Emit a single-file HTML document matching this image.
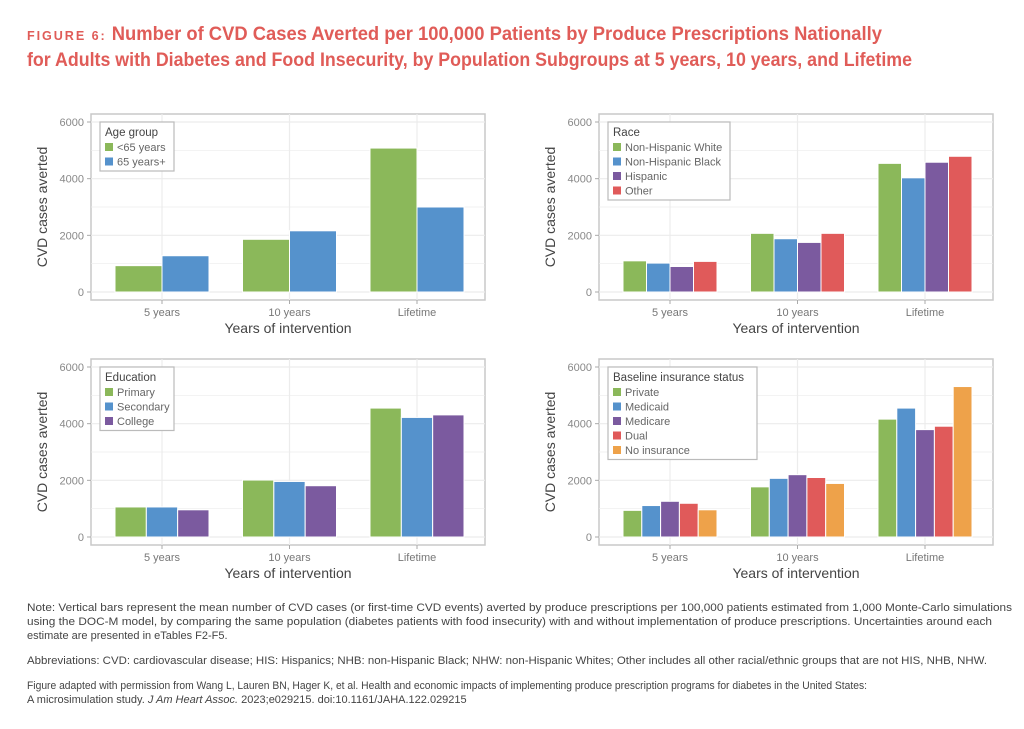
<!DOCTYPE html>
<html><head><meta charset="utf-8"><style>
html,body{margin:0;padding:0;background:#fff;}
svg{display:block;font-family:"Liberation Sans",sans-serif;}
</style></head><body>
<svg id="s" width="1024" height="729" viewBox="0 0 1024 729" xmlns="http://www.w3.org/2000/svg">
<text x="27" y="40" fill="#e05c58" font-weight="bold" font-size="19" textLength="855" lengthAdjust="spacingAndGlyphs"><tspan font-size="13" letter-spacing="2">FIGURE 6:</tspan> Number of CVD Cases Averted per 100,000 Patients by Produce Prescriptions Nationally</text>
<text x="27" y="66" fill="#e05c58" font-weight="bold" font-size="19" textLength="885" lengthAdjust="spacingAndGlyphs">for Adults with Diabetes and Food Insecurity, by Population Subgroups at 5 years, 10 years, and Lifetime</text>
<g id="charts"></g>
<g font-size="11" fill="#444">
<text x="27" y="611" textLength="985" lengthAdjust="spacingAndGlyphs">Note: Vertical bars represent the mean number of CVD cases (or first-time CVD events) averted by produce prescriptions per 100,000 patients estimated from 1,000 Monte-Carlo simulations</text>
<text x="27" y="625" textLength="965" lengthAdjust="spacingAndGlyphs">using the DOC-M model, by comparing the same population (diabetes patients with food insecurity) with and without implementation of produce prescriptions. Uncertainties around each</text>
<text x="27" y="639">estimate are presented in eTables F2-F5.</text>
<text x="27" y="664" textLength="960" lengthAdjust="spacingAndGlyphs">Abbreviations: CVD: cardiovascular disease; HIS: Hispanics; NHB: non-Hispanic Black; NHW: non-Hispanic Whites; Other includes all other racial/ethnic groups that are not HIS, NHB, NHW.</text>
<text x="27" y="689" textLength="840" lengthAdjust="spacingAndGlyphs">Figure adapted with permission from Wang L, Lauren BN, Hager K, et al. Health and economic impacts of implementing produce prescription programs for diabetes in the United States:</text>
<text x="27" y="703">A microsimulation study. <tspan font-style="italic">J Am Heart Assoc.</tspan> 2023;e029215. doi:10.1161/JAHA.122.029215</text>
</g>
</svg>
<script>
var C={g:"#8bb85a",b:"#5592cc",p:"#7b5a9f",r:"#e05a5a",o:"#eea24a"};
var panels=[
{x:91,y:114,title:"Age group",names:["<65 years","65 years+"],cols:[C.g,C.b],d:[[930,1280],[1860,2160],[5080,3000]],lw:74},
{x:599,y:114,title:"Race",names:["Non-Hispanic White","Non-Hispanic Black","Hispanic","Other"],cols:[C.g,C.b,C.p,C.r],d:[[1100,1020,900,1080],[2070,1880,1750,2070],[4540,4030,4580,4790]],lw:122},
{x:91,y:359,title:"Education",names:["Primary","Secondary","College"],cols:[C.g,C.b,C.p],d:[[1060,1060,960],[2010,1960,1810],[4550,4220,4310]],lw:74},
{x:599,y:359,title:"Baseline insurance status",names:["Private","Medicaid","Medicare","Dual","No insurance"],cols:[C.g,C.b,C.p,C.r,C.o],d:[[940,1110,1260,1190,960],[1770,2070,2200,2100,1890],[4160,4550,3790,3910,5310]],lw:149}
];
var h="";
panels.forEach(function(P){
 var W=394,H=186,y0=P.y+178,k=170/6000;
 h+='<rect x="'+P.x+'" y="'+P.y+'" width="'+W+'" height="'+H+'" fill="#fff" stroke="#c8c8c8" stroke-width="1.5"/>';
 for(var v=1000;v<=6000;v+=1000){var yy=y0-v*k;h+='<line x1="'+P.x+'" x2="'+(P.x+W)+'" y1="'+yy+'" y2="'+yy+'" stroke="#ececec" stroke-width="'+(v%2000?0.7:1.2)+'"/>';}
 h+='<line x1="'+P.x+'" x2="'+(P.x+W)+'" y1="'+y0+'" y2="'+y0+'" stroke="#ececec" stroke-width="1.2"/>';
 var cats=["5 years","10 years","Lifetime"];
 for(var i=0;i<3;i++){var cx=P.x+71+i*127.5;h+='<line x1="'+cx+'" x2="'+cx+'" y1="'+P.y+'" y2="'+(P.y+H)+'" stroke="#ececec" stroke-width="1.2"/>';
  h+='<line x1="'+cx+'" x2="'+cx+'" y1="'+(P.y+H)+'" y2="'+(P.y+H+4)+'" stroke="#aaa"/>';
  h+='<text x="'+cx+'" y="'+(P.y+H+16)+'" font-size="11" fill="#777" text-anchor="middle">'+cats[i]+'</text>';
  var n=P.d[i].length,bw=94/n;
  for(var j=0;j<n;j++){var v=P.d[i][j],bh=v*k;h+='<rect x="'+(cx-47+j*bw)+'" y="'+(y0-bh)+'" width="'+bw+'" height="'+bh+'" fill="'+P.cols[j]+'" stroke="#fff" stroke-width="1"/>';}
 }
 for(var v=0;v<=6000;v+=2000){var yy=y0-v*k;h+='<line x1="'+(P.x-4)+'" x2="'+P.x+'" y1="'+yy+'" y2="'+yy+'" stroke="#aaa"/><text x="'+(P.x-7)+'" y="'+(yy+4)+'" font-size="11" fill="#888" text-anchor="end">'+v+'</text>';}
 h+='<text x="'+(P.x+W/2)+'" y="'+(P.y+H+33)+'" font-size="14" fill="#444" text-anchor="middle">Years of intervention</text>';
 h+='<text transform="translate('+(P.x-44)+','+(P.y+H/2)+') rotate(-90)" font-size="14" fill="#444" text-anchor="middle">CVD cases averted</text>';
 var lx=P.x+9,ly=P.y+8,lh=20+P.names.length*14.5;
 h+='<rect x="'+lx+'" y="'+ly+'" width="'+P.lw+'" height="'+lh+'" fill="#fff" stroke="#bbb" stroke-width="1.2"/>';
 h+='<text x="'+(lx+5)+'" y="'+(ly+14)+'" font-size="11.5" fill="#444">'+P.title+'</text>';
 P.names.forEach(function(nm,j){var yy=ly+21+j*14.5;h+='<rect x="'+(lx+5)+'" y="'+yy+'" width="8" height="8" fill="'+P.cols[j]+'"/><text x="'+(lx+17)+'" y="'+(yy+8)+'" font-size="11" fill="#666">'+nm.replace("<","&lt;")+'</text>';});
});
document.getElementById("charts").innerHTML=h;
</script>
</body></html>
